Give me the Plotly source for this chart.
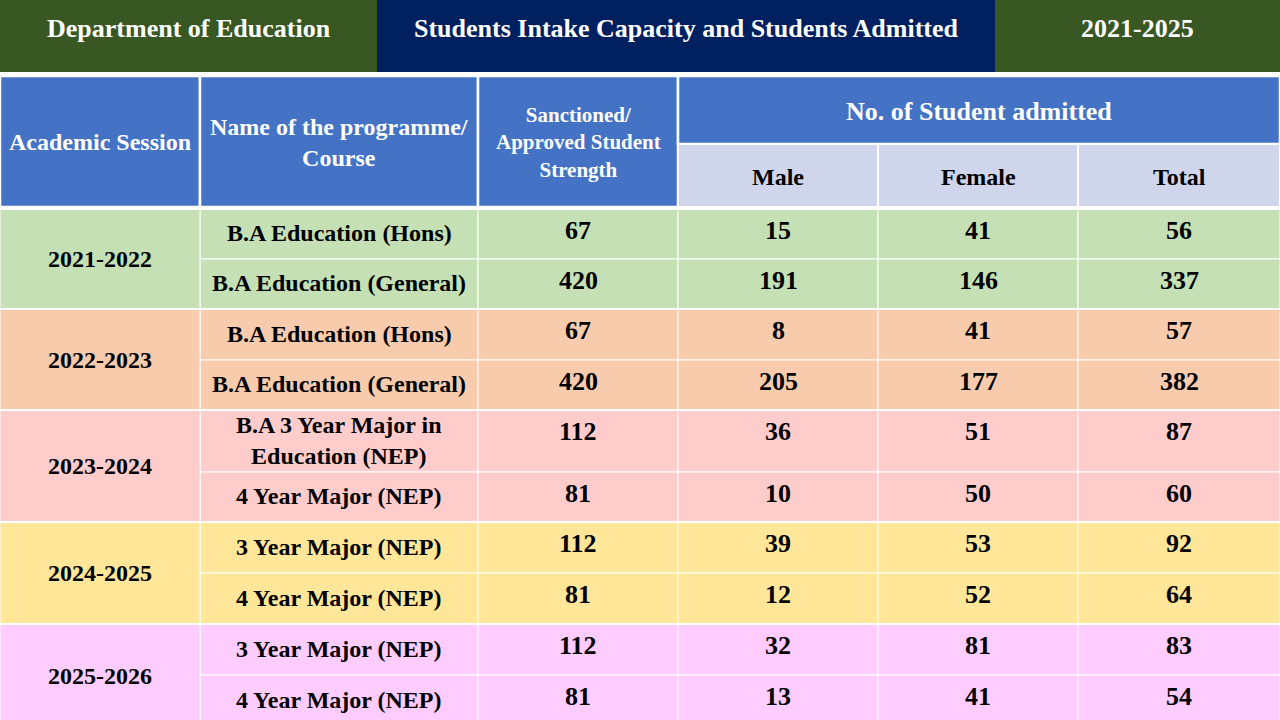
import plotly.graph_objects as go

# ---- data ----
title_left = "Department of Education"
title_mid = "Students Intake Capacity and Students Admitted"
title_right = "2021-2025"

sessions = ["2021-2022", "2022-2023", "2023-2024", "2024-2025", "2025-2026"]
programmes = [
    "B.A Education (Hons)", "B.A Education (General)",
    "B.A Education (Hons)", "B.A Education (General)",
    "B.A 3 Year Major in<br>Education (NEP)", "4 Year Major (NEP)",
    "3 Year Major (NEP)", "4 Year Major (NEP)",
    "3 Year Major (NEP)", "4 Year Major (NEP)",
]
sanctioned = [67, 420, 67, 420, 112, 81, 112, 81, 112, 81]
male = [15, 191, 8, 205, 36, 10, 39, 12, 32, 13]
female = [41, 146, 41, 177, 51, 50, 53, 52, 81, 41]
total = [56, 337, 57, 382, 87, 60, 92, 64, 83, 54]

head_cols = ["Academic Session", "Name of the programme/<br>Course",
             "Sanctioned/<br>Approved Student<br>Strength"]
head_group = "No. of Student admitted"
sub_cols = ["Male", "Female", "Total"]

# ---- layout / style ----
W, H = 1280, 720
FONT = "Liberation Serif"
green_dark = "#385723"
navy = "#002060"
head_blue = "#4472C4"
sub_blue = "#CFD5EA"
group_colors = ["#C5E0B4", "#F8CBAD", "#FFCCCC", "#FFE699", "#FFCCFF"]

col_edges = [0, 200, 478, 678, 878, 1078, 1280]
title_edges = [0, 377, 995, 1280]
title_bottom = 72
head_top, head_split, head_bottom = 76, 144, 207
body_top = 209
row_heights = [50, 50, 51, 50, 62, 50, 51, 51, 51, 52]

row_edges = [body_top]
for h in row_heights:
    row_edges.append(row_edges[-1] + h)

shapes = []
annotations = []


def rect(x0, x1, y0, y1, fill, lw=0):
    shapes.append(dict(type="rect", xref="x", yref="y", x0=x0, x1=x1, y0=y0, y1=y1,
                       fillcolor=fill, line=dict(color="white", width=lw), layer="below"))


def label(x, y, text, size, color="black"):
    annotations.append(dict(x=x, y=y, xref="x", yref="y", text=text, showarrow=False,
                            xanchor="center", yanchor="middle",
                            font=dict(family=FONT, size=size, color=color, weight="bold")))


# title bar
title_texts = [title_left, title_mid, title_right]
title_fills = [green_dark, navy, green_dark]
for i, t in enumerate(title_texts):
    x0, x1 = title_edges[i], title_edges[i + 1]
    rect(x0, x1, 0, title_bottom, title_fills[i])
    label((x0 + x1) / 2, 28, t, 26, "white")

# header
for i, t in enumerate(head_cols):
    x0, x1 = col_edges[i], col_edges[i + 1]
    rect(x0, x1, head_top, head_bottom, head_blue, 2.5)
    label((x0 + x1) / 2, 142, t, 24 if i < 2 else 21, "white")
rect(col_edges[3], col_edges[6], head_top, head_split, head_blue, 2.5)
label((col_edges[3] + col_edges[6]) / 2, 111, head_group, 26, "white")
for i, t in enumerate(sub_cols):
    x0, x1 = col_edges[3 + i], col_edges[4 + i]
    rect(x0, x1, head_split, head_bottom, sub_blue, 2)
    label((x0 + x1) / 2, 177, t, 24)

# body
values = [sanctioned, male, female, total]
for r in range(len(programmes)):
    g = r // 2
    y0, y1 = row_edges[r], row_edges[r + 1]
    fill = group_colors[g]
    x0, x1 = col_edges[1], col_edges[2]
    rect(x0, x1, y0, y1, fill, 1)
    label((x0 + x1) / 2, (y0 + y1) / 2 - 1, programmes[r], 24)
    for c, series in enumerate(values):
        x0, x1 = col_edges[2 + c], col_edges[3 + c]
        rect(x0, x1, y0, y1, fill, 1)
        label((x0 + x1) / 2, y0 + 21, str(series[r]), 26)

for g, s in enumerate(sessions):
    y0, y1 = row_edges[2 * g], row_edges[2 * g + 2]
    rect(col_edges[0], col_edges[1], y0, y1, group_colors[g], 1)
    label((col_edges[0] + col_edges[1]) / 2, (y0 + y1) / 2, s, 24)
    # thicker white separator between session groups
    shapes.append(dict(type="line", xref="x", yref="y", x0=0, x1=W, y0=y0, y1=y0,
                       line=dict(color="white", width=2)))

fig = go.Figure()
fig.add_trace(go.Scatter(x=[0, W], y=[0, H], mode="markers",
                         marker=dict(opacity=0), hoverinfo="skip", showlegend=False))
fig.update_layout(
    width=W, height=H,
    margin=dict(l=0, r=0, t=0, b=0),
    paper_bgcolor="white", plot_bgcolor="white",
    shapes=shapes, annotations=annotations,
    xaxis=dict(range=[0, W], visible=False, fixedrange=True),
    yaxis=dict(range=[H, 0], visible=False, fixedrange=True),
    showlegend=False,
)

# drop the browser's default page margin so the slide fills the window
fig.write_html("out.html", config={"displayModeBar": False},
               post_script="document.body.style.margin='0';document.body.style.overflow='hidden';")
